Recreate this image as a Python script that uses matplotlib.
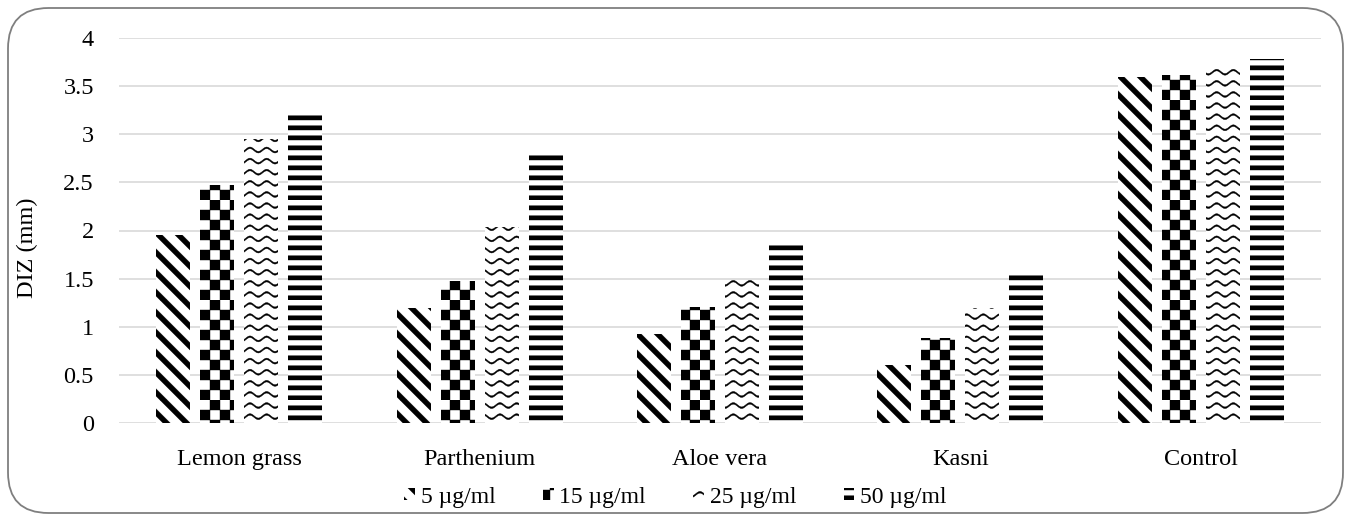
import numpy as np
import matplotlib
matplotlib.use("Agg")
import matplotlib.pyplot as plt
import matplotlib.hatch as mhatch
from matplotlib.path import Path
from matplotlib.patches import FancyBboxPatch

# ---------------- data ----------------
categories = ["Lemon grass", "Parthenium", "Aloe vera", "Kasni", "Control"]
series_names = ["5 \u00b5g/ml", "15 \u00b5g/ml", "25 \u00b5g/ml", "50 \u00b5g/ml"]
s5 = [1.95, 1.20, 0.92, 0.60, 3.60]
s15 = [2.47, 1.48, 1.21, 0.88, 3.62]
s25 = [2.95, 2.04, 1.49, 1.20, 3.70]
s50 = [3.20, 2.83, 1.85, 1.55, 3.78]
yticks = [0, 0.5, 1, 1.5, 2, 2.5, 3, 3.5, 4]
ytick_labels = ["0", "0.5", "1", "1.5", "2", "2.5", "3", "3.5", "4"]

# ---------------- custom hatch patterns (filled shapes) ----------------
M, L, C = Path.MOVETO, Path.LINETO, Path.CLOSEPOLY


class HStripes(mhatch.HatchPatternBase):  # '-'
    def __init__(self, hatch, density):
        self.on = hatch.count('-') > 0
        self.n = 10
        self.num_vertices = self.n * 5 if self.on else 0

    def set_vertices_and_codes(self, vertices, codes):
        t = 0.42 / self.n
        i = 0
        for j in range(self.n):
            y0 = j / self.n
            vertices[i:i + 5] = [(-0.1, y0), (1.1, y0), (1.1, y0 + t), (-0.1, y0 + t), (-0.1, y0)]
            codes[i:i + 5] = [M, L, L, L, C]
            i += 5


class Diag(mhatch.HatchPatternBase):  # '\\'
    def __init__(self, hatch, density):
        self.on = hatch.count('\\') > 0
        self.n = 5
        self.offs = [k / self.n for k in range(-self.n - 1, self.n + 2)]
        self.num_vertices = len(self.offs) * 5 if self.on else 0

    def set_vertices_and_codes(self, vertices, codes):
        w = 0.36 / self.n
        i = 0
        for o in self.offs:
            vertices[i:i + 5] = [(o, 1), (o + w, 1), (o + w + 1, 0), (o + 1, 0), (o, 1)]
            codes[i:i + 5] = [M, L, L, L, C]
            i += 5


class Checker(mhatch.HatchPatternBase):  # '+'
    def __init__(self, hatch, density):
        self.on = hatch.count('+') > 0
        self.n = 10
        self.cells = [(a, b) for a in range(self.n) for b in range(self.n) if (a + b) % 2 == 0]
        self.num_vertices = len(self.cells) * 5 if self.on else 0

    def set_vertices_and_codes(self, vertices, codes):
        s = 1.0 / self.n
        i = 0
        for a, b in self.cells:
            x0, y0 = a * s, b * s
            vertices[i:i + 5] = [(x0, y0), (x0 + s, y0), (x0 + s, y0 + s), (x0, y0 + s), (x0, y0)]
            codes[i:i + 5] = [M, L, L, L, C]
            i += 5


class Wave(mhatch.HatchPatternBase):  # 'o'
    def __init__(self, hatch, density):
        self.on = hatch.count('o') > 0
        self.rows = 9
        self.per = 6
        self.ns = 73
        self.num_vertices = self.rows * (2 * self.ns + 1) if self.on else 0

    def set_vertices_and_codes(self, vertices, codes):
        x = np.linspace(0, 1, self.ns)
        amp = 0.022
        t = 0.016
        i = 0
        for r in range(self.rows):
            yc = (r + 0.5) / self.rows
            y = yc + amp * np.cos(2 * np.pi * self.per * x)
            upper = np.column_stack([x, y + t / 2])
            lower = np.column_stack([x[::-1], (y - t / 2)[::-1]])
            pts = np.vstack([upper, lower, upper[:1]])
            vertices[i:i + len(pts)] = pts
            cd = [L] * len(pts)
            cd[0] = M
            cd[-1] = C
            codes[i:i + len(pts)] = cd
            i += len(pts)


mhatch._hatch_types = [HStripes, Diag, Checker, Wave]

plt.rcParams['hatch.linewidth'] = 0.3
plt.rcParams['hatch.color'] = 'black'
plt.rcParams['font.family'] = ['Liberation Serif', 'DejaVu Serif']

# ---------------- figure ----------------
W, H = 1351, 516
fig = plt.figure(figsize=(W / 100, H / 100), dpi=100)
ax = fig.add_axes([119 / W, 1 - 423 / H, (1321 - 119) / W, (423 - 38) / H])

series = [s5, s15, s25, s50]
hatches = ['\\', '+', 'o', '-']
x = np.arange(len(categories))
bw = 34 / 240.4
step = 44 / 240.4
for k, (vals, h) in enumerate(zip(series, hatches)):
    ax.bar(x + (k - 1.5) * step, vals, width=bw, facecolor='white',
           edgecolor='black', linewidth=0, hatch=h, label=series_names[k], zorder=2)

ax.set_xlim(-0.5, len(categories) - 0.5)
ax.set_ylim(0, 4)
ax.set_yticks(yticks)
ax.set_yticklabels(ytick_labels)
ax.set_xticks(x)
ax.set_xticklabels(categories)
ax.tick_params(axis='both', length=0, labelsize=17.5)
ax.tick_params(axis='y', pad=18)
ax.tick_params(axis='x', pad=19)
ax.grid(axis='y', color='#d9d9d9', linewidth=1.2)
ax.set_axisbelow(True)
for sp in ax.spines.values():
    sp.set_visible(False)
ax.set_ylabel("DIZ (mm)", fontsize=17.5)
ax.yaxis.set_label_coords(-0.067, 0.455)

leg = fig.legend(*ax.get_legend_handles_labels(), loc='center', ncol=4,
                 bbox_to_anchor=(0.5, 1 - 497 / H), frameon=False, fontsize=17,
                 handlelength=0.45, handleheight=0.45, handletextpad=0.25,
                 columnspacing=2.0, borderaxespad=0)

border = FancyBboxPatch((8 / W, 3 / H), (W - 16) / W, (H - 11) / H,
                        boxstyle="round,pad=0,rounding_size=0.03",
                        transform=fig.transFigure, facecolor='none',
                        edgecolor='#7f7f7f', linewidth=1.3, mutation_aspect=W / H)
fig.patches.append(border)

fig.savefig("out.png", dpi=100)
